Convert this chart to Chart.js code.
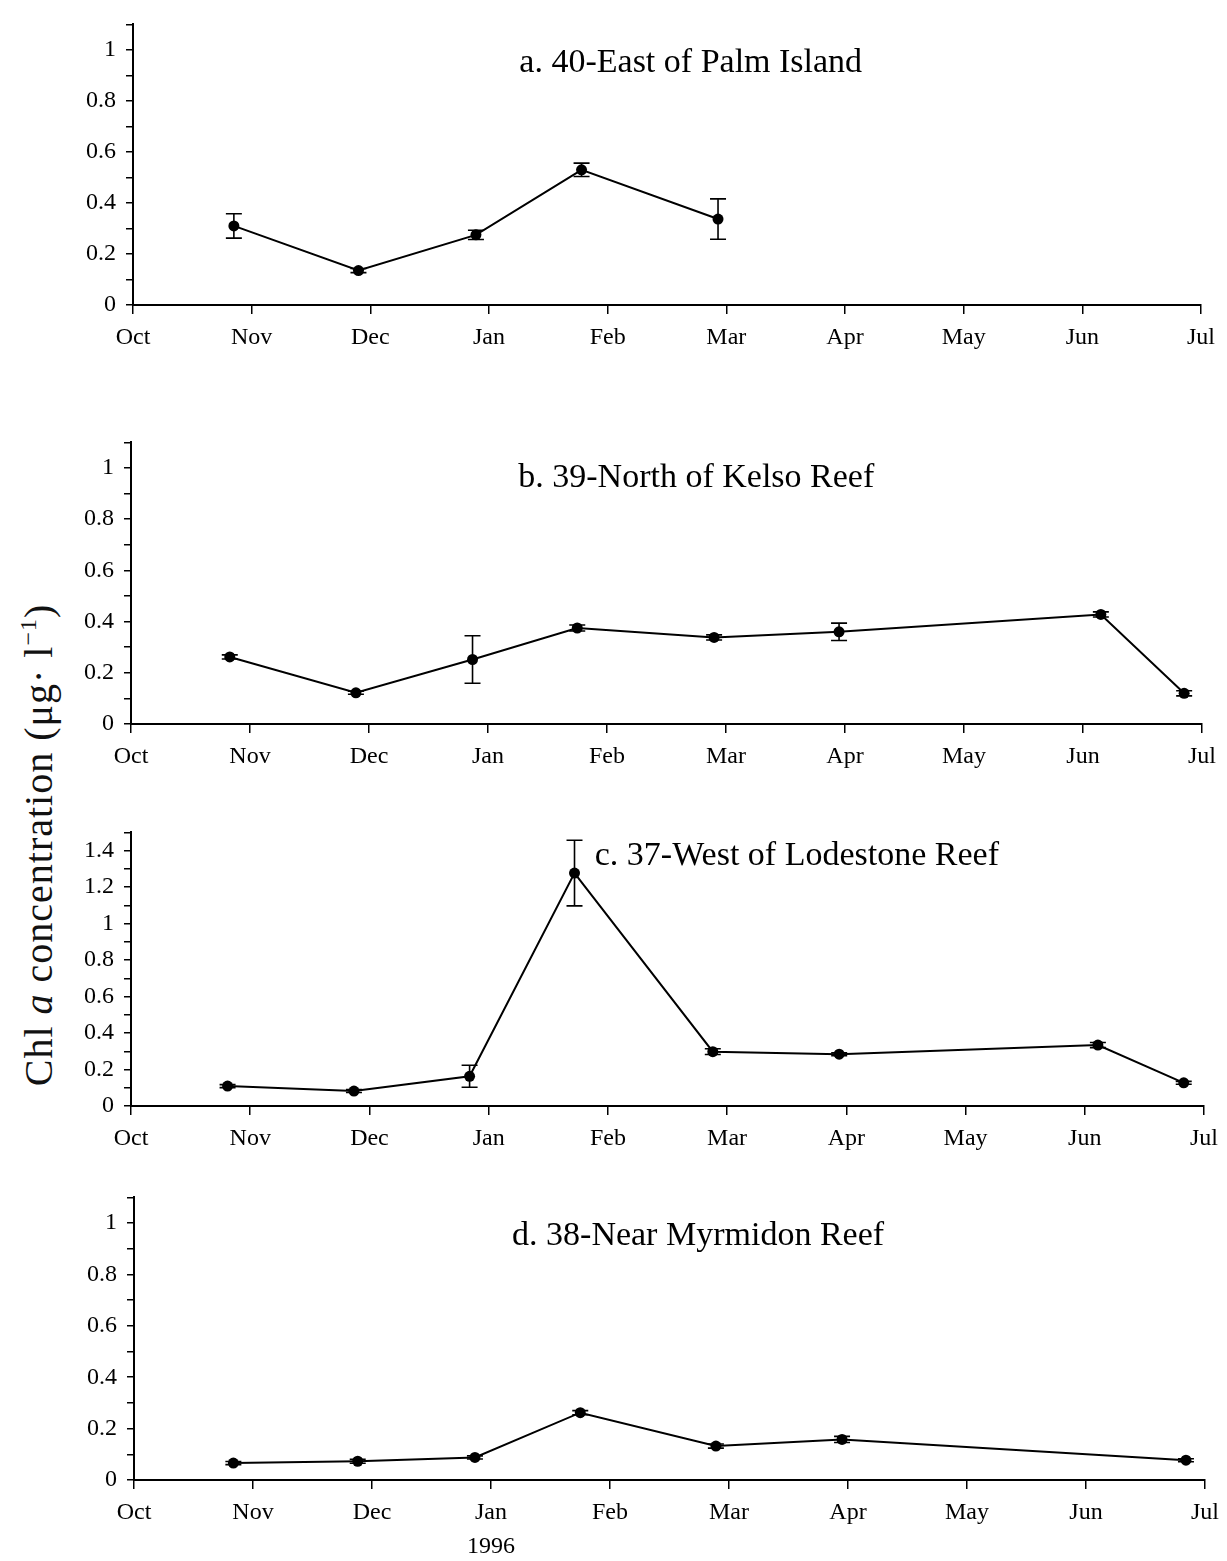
<!DOCTYPE html>
<html>
<head>
<meta charset="utf-8">
<script src="https://cdn.jsdelivr.net/npm/chart.js@4.4.0/dist/chart.umd.min.js"></script>
<style>
body{margin:0;background:#fff;width:1227px;height:1561px;position:relative;overflow:hidden}
canvas{position:absolute;left:0}
#ylab{position:absolute;left:38px;top:845px;transform:translate(-50%,-50%) rotate(-90deg);
  font-family:"Liberation Serif",serif;font-size:40px;letter-spacing:1px;white-space:nowrap;color:#111}
#ylab sup{font-size:24px;vertical-align:16px;line-height:0}
</style>
</head>
<body>
<div id="ylab">Chl <i>a</i> concentration (μg· l<sup>−1</sup>)</div>
<script>
// x in months after 1 Oct 1995
var months = ['Oct','Nov','Dec','Jan','Feb','Mar','Apr','May','Jun','Jul']

// a. 40-East of Palm Island
var palmX = [0.85, 1.9, 2.89, 3.78, 4.93]
var palmY = [0.31, 0.135, 0.275, 0.53, 0.337]
var palmErr = [0.048, 0.008, 0.018, 0.026, 0.079]

// b. 39-North of Kelso Reef
var kelsoX = [0.83, 1.89, 2.87, 3.75, 4.90, 5.95, 8.15, 8.85]
var kelsoY = [0.262, 0.122, 0.252, 0.375, 0.338, 0.36, 0.428, 0.12]
var kelsoErr = [0.008, 0.006, 0.093, 0.012, 0.01, 0.034, 0.01, 0.01]

// c. 37-West of Lodestone Reef
var lodeX = [0.81, 1.87, 2.84, 3.72, 4.88, 5.94, 8.11, 8.83]
var lodeY = [0.109, 0.082, 0.163, 1.277, 0.298, 0.284, 0.334, 0.127]
var lodeErr = [0.008, 0.008, 0.06, 0.18, 0.016, 0.008, 0.014, 0.008]

// d. 38-Near Myrmidon Reef
var myrX = [0.835, 1.88, 2.865, 3.75, 4.89, 5.95, 8.84]
var myrY = [0.066, 0.073, 0.088, 0.262, 0.132, 0.158, 0.077]
var myrErr = [0.006, 0.008, 0.006, 0.008, 0.008, 0.012, 0.006]

var serif = '"Liberation Serif", serif'

var errbars = {
  id: 'errbars',
  afterDatasetsDraw: function(chart, args, opts){
    var ctx = chart.ctx
    var meta = chart.getDatasetMeta(0)
    var ys = chart.scales.y
    ctx.save()
    ctx.strokeStyle = '#000'
    ctx.lineWidth = 1.6
    meta.data.forEach(function(pt, i){
      var v = opts.y[i], e = opts.err[i]
      var lo = ys.getPixelForValue(v - e), hi = ys.getPixelForValue(v + e)
      ctx.beginPath()
      ctx.moveTo(pt.x, lo); ctx.lineTo(pt.x, hi)
      ctx.moveTo(pt.x - 8, lo); ctx.lineTo(pt.x + 8, lo)
      ctx.moveTo(pt.x - 8, hi); ctx.lineTo(pt.x + 8, hi)
      ctx.stroke()
    })
    ctx.restore()
  }
}

var panelTitle = {
  id: 'panelTitle',
  afterDraw: function(chart, args, opts){
    var ctx = chart.ctx
    ctx.save()
    ctx.font = '34px ' + serif
    ctx.fillStyle = '#000'
    ctx.textAlign = opts.align
    ctx.textBaseline = 'middle'
    ctx.fillText(opts.text, chart.scales.x.getPixelForValue(opts.tx), chart.scales.y.getPixelForValue(opts.ty))
    ctx.restore()
  }
}

function makePanel(p){
  var xh = p.xh || 65
  var cv = document.createElement('canvas')
  cv.width = 1227
  cv.height = p.bottom - p.top + 16 + xh
  cv.style.top = (p.top - 16) + 'px'
  document.body.appendChild(cv)
  var pts = p.x.map(function(v, i){ return {x: v, y: p.y[i]} })
  new Chart(cv, {
    type: 'line',
    data: {
      datasets: [{
        data: pts,
        borderColor: '#000',
        borderWidth: 2,
        pointRadius: 5.5,
        pointBackgroundColor: '#000',
        pointBorderWidth: 0,
        tension: 0
      }]
    },
    options: {
      responsive: false,
      animation: false,
      layout: {padding: {top: 16, left: 0, right: 1227 - p.right, bottom: 0}},
      plugins: {
        legend: {display: false},
        tooltip: {enabled: false},
        errbars: {y: p.y, err: p.err},
        panelTitle: {text: p.title, tx: p.tx, ty: p.ty, align: p.align || 'center'}
      },
      scales: {
        x: {
          type: 'linear', min: 0, max: 9,
          afterBuildTicks: function(s){ s.ticks = months.map(function(m, i){ return {value: i} }) },
          ticks: {
            autoSkip: false, maxRotation: 0, padding: 6, color: '#000',
            font: {family: serif, size: 24, lineHeight: 1.45},
            callback: function(v){ return (p.year && v === 3) ? ['Jan', '1996'] : months[v] }
          },
          grid: {drawOnChartArea: false, tickLength: 9, color: '#000', lineWidth: 1.5},
          border: {color: '#000', width: 2},
          afterFit: function(s){ s.height = xh }
        },
        y: {
          min: 0, max: p.ymax,
          ticks: {
            stepSize: 0.1, padding: 10, color: '#000', autoSkip: false,
            font: {family: serif, size: 24},
            callback: function(v){ var k = Math.round(v * 10); return k % 2 === 0 ? String(k / 10) : '' }
          },
          grid: {drawOnChartArea: false, tickLength: 7, color: '#000', lineWidth: 1.5},
          border: {color: '#000', width: 2},
          afterFit: function(s){ s.width = p.left }
        }
      }
    },
    plugins: [errbars, panelTitle]
  })
}

makePanel({top: 16, bottom: 305, left: 133, right: 1201, ymax: 1.1, x: palmX, y: palmY, err: palmErr,
  title: 'a. 40-East of Palm Island', tx: 4.7, ty: 0.95})
makePanel({top: 434, bottom: 724, left: 131, right: 1202, ymax: 1.1, x: kelsoX, y: kelsoY, err: kelsoErr,
  title: 'b. 39-North of Kelso Reef', tx: 4.75, ty: 0.96})
makePanel({top: 824, bottom: 1106, left: 131, right: 1204, ymax: 1.5, x: lodeX, y: lodeY, err: lodeErr,
  title: 'c. 37-West of Lodestone Reef', tx: 3.89, ty: 1.37, align: 'left'})
makePanel({top: 1189, bottom: 1480, left: 134, right: 1205, ymax: 1.1, x: myrX, y: myrY, err: myrErr,
  title: 'd. 38-Near Myrmidon Reef', tx: 4.74, ty: 0.95, xh: 81, year: true})
</script>
</body>
</html>
